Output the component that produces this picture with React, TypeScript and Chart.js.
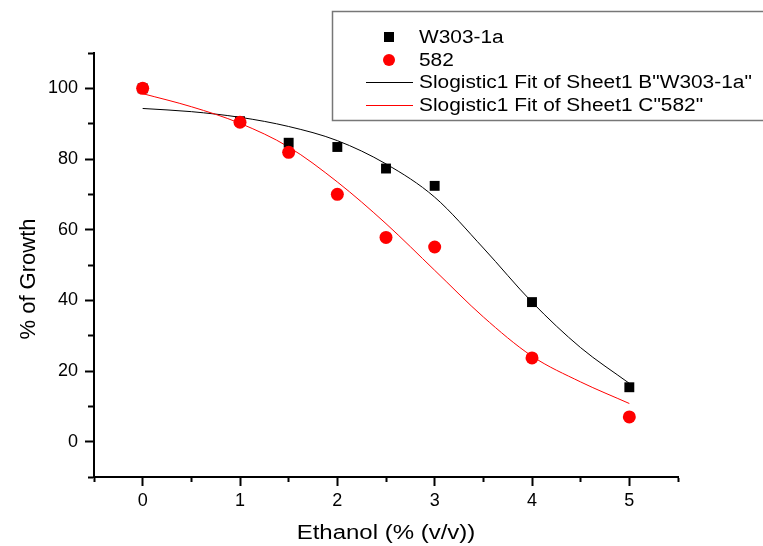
import React, { useEffect, useRef } from 'react';
import { Chart, registerables } from 'chart.js';

Chart.register(...registerables);

// Measured data
const ethanolPct = [0, 1, 1.5, 2, 2.5, 3, 4, 5];
const growthW303 = [100, 90.7, 84.6, 83.4, 77.3, 72.4, 39.5, 15.4];
const growth582 = [100, 90.4, 81.9, 70.0, 57.8, 55.1, 23.7, 7.0];

// Fitted curves
const fitEthanol = [0, 0.5, 1, 1.5, 2, 2.5, 3, 3.5, 4, 4.5, 5];
const fitW303 = [94.3, 93.4, 91.8, 89.2, 85.2, 78.6, 69.2, 54.8, 39.5, 26.6, 16.5];
const fit582 = [98.5, 94.8, 90.1, 83.4, 73.5, 61.7, 48.5, 35.3, 24.2, 16.9, 10.8];

const legendLabels = [
  'W303-1a',
  '582',
  'Slogistic1 Fit of Sheet1 B"W303-1a"',
  'Slogistic1 Fit of Sheet1 C"582"',
];
const xTitle = 'Ethanol (% (v/v))';
const yTitle = '% of Growth';

const FONT = '"Liberation Sans", Arial, sans-serif';

const toPoints = (xs: number[], ys: number[]) => xs.map((x, i) => ({ x, y: ys[i] }));

const decorations = {
  id: 'decorations',
  afterDraw(chart: any) {
    const ctx: CanvasRenderingContext2D = chart.ctx;
    const area = chart.chartArea;
    ctx.save();
    ctx.fillStyle = '#000';
    ctx.textBaseline = 'alphabetic';

    // X title
    ctx.save();
    ctx.font = `20px ${FONT}`;
    ctx.textAlign = 'center';
    ctx.translate((area.left + area.right) / 2, chart.height - 7);
    ctx.scale(1.2, 1);
    ctx.fillText(xTitle, 0, 0);
    ctx.restore();

    // Y title
    ctx.save();
    ctx.font = `22px ${FONT}`;
    ctx.textAlign = 'center';
    ctx.translate(35, (area.top + area.bottom) / 2 + 14);
    ctx.rotate(-Math.PI / 2);
    ctx.fillText(yTitle, 0, 0);
    ctx.restore();

    // Legend box
    ctx.fillStyle = '#fff';
    ctx.fillRect(332, 11, 440, 110);
    ctx.strokeStyle = '#777';
    ctx.lineWidth = 1.5;
    ctx.strokeRect(332.5, 11.5, 440, 109);

    const rows = [37, 60, 82.5, 105.5];
    const mx = 389;
    ctx.fillStyle = '#000';
    ctx.fillRect(mx - 5, rows[0] - 5, 10, 10);
    ctx.fillStyle = '#ff0000';
    ctx.beginPath();
    ctx.arc(mx, rows[1], 6, 0, Math.PI * 2);
    ctx.fill();
    ctx.lineWidth = 1;
    ctx.strokeStyle = '#000';
    ctx.beginPath();
    ctx.moveTo(366, rows[2]);
    ctx.lineTo(413, rows[2]);
    ctx.stroke();
    ctx.strokeStyle = '#ff0000';
    ctx.beginPath();
    ctx.moveTo(366, rows[3]);
    ctx.lineTo(413, rows[3]);
    ctx.stroke();

    ctx.fillStyle = '#000';
    ctx.font = `18px ${FONT}`;
    ctx.textAlign = 'left';
    ctx.textBaseline = 'middle';
    legendLabels.forEach((t, i) => {
      ctx.save();
      ctx.translate(419, rows[i] + 1);
      ctx.scale(1.16, 1);
      ctx.fillText(t, 0, 0);
      ctx.restore();
    });

    ctx.restore();
  },
};

export default function App() {
  const canvasRef = useRef<HTMLCanvasElement | null>(null);

  useEffect(() => {
    if (!canvasRef.current) return;
    const isMajorX = (v: number) => Math.abs(v - Math.round(v)) < 1e-6;
    const isMajorY = (v: number) => Math.abs(v % 20) < 1e-6;

    const chart = new Chart(canvasRef.current, {
      type: 'scatter',
      data: {
        datasets: [
          {
            label: legendLabels[1],
            data: toPoints(ethanolPct, growth582),
            pointStyle: 'circle',
            pointRadius: 6.5,
            pointBackgroundColor: '#ff0000',
            pointBorderWidth: 0,
            showLine: false,
          },
          {
            label: legendLabels[0],
            data: toPoints(ethanolPct, growthW303),
            pointStyle: 'rect',
            pointRadius: 7,
            pointBackgroundColor: '#000',
            pointBorderWidth: 0,
            showLine: false,
          },
          {
            label: legendLabels[3],
            data: toPoints(fitEthanol, fit582),
            showLine: true,
            pointRadius: 0,
            borderColor: '#ff0000',
            borderWidth: 1,
            cubicInterpolationMode: 'monotone',
          },
          {
            label: legendLabels[2],
            data: toPoints(fitEthanol, fitW303),
            showLine: true,
            pointRadius: 0,
            borderColor: '#000',
            borderWidth: 1,
            cubicInterpolationMode: 'monotone',
          },
        ],
      },
      options: {
        animation: false,
        responsive: false,
        maintainAspectRatio: false,
        layout: { padding: { top: 53, right: 85, left: 0, bottom: 0 } },
        plugins: {
          legend: { display: false },
          tooltip: { enabled: false },
        },
        scales: {
          x: {
            type: 'linear',
            min: -0.5,
            max: 5.5,
            afterFit: (s: any) => {
              s.height = 69;
            },
            border: { display: true, color: '#000', width: 2 },
            grid: {
              display: true,
              drawOnChartArea: false,
              drawTicks: true,
              tickLength: 9,
              tickWidth: 2,
              tickColor: '#000',
              tickBorderDash: (c: any) => (c.tick && isMajorX(c.tick.value) ? [] : [4, 100]),
            },
            ticks: {
              stepSize: 0.5,
              padding: 4,
              color: '#000',
              font: { family: FONT, size: 18 },
              maxRotation: 0,
              autoSkip: false,
              callback: (v: any) => (isMajorX(Number(v)) ? String(Math.round(Number(v))) : ''),
            },
          },
          y: {
            type: 'linear',
            min: -10,
            max: 110,
            afterFit: (s: any) => {
              s.width = 94;
            },
            border: { display: true, color: '#000', width: 2 },
            grid: {
              display: true,
              drawOnChartArea: false,
              drawTicks: true,
              tickLength: 9,
              tickWidth: 2,
              tickColor: '#000',
              tickBorderDash: (c: any) => (c.tick && isMajorY(c.tick.value) ? [] : [0, 3, 6, 100]),
            },
            ticks: {
              stepSize: 10,
              padding: 7,
              color: '#000',
              font: { family: FONT, size: 18 },
              autoSkip: false,
              callback: (v: any) => (isMajorY(Number(v)) ? String(v) : ''),
            },
          },
        },
      },
      plugins: [decorations],
    } as any);

    return () => chart.destroy();
  }, []);

  return (
    <div style={{ position: 'fixed', left: 0, top: 0, width: 763, height: 546, background: '#fff' }}>
      <canvas ref={canvasRef} width={763} height={546} style={{ display: 'block', width: 763, height: 546 }} />
    </div>
  );
}
